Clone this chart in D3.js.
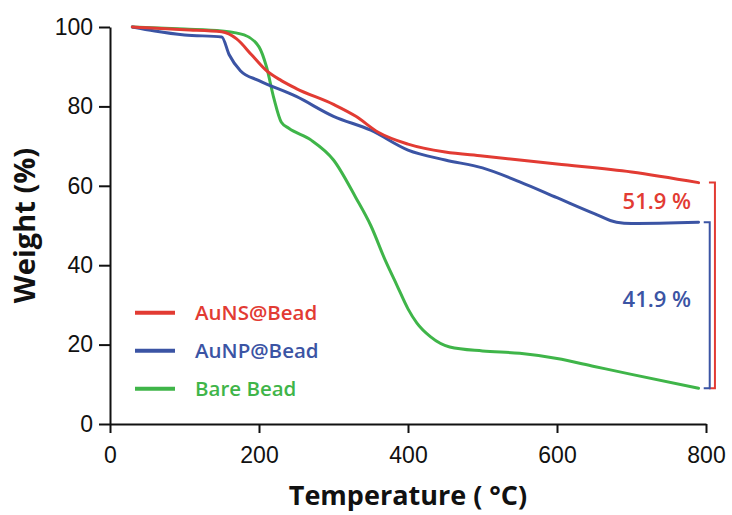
<!DOCTYPE html>
<html>
<head>
<meta charset="utf-8">
<script src="https://cdn.jsdelivr.net/npm/d3@7"></script>
<style>
  body { margin: 0; background: #fff; }
  svg { font-family: "Open Sans", "Noto Sans", sans-serif; }
</style>
</head>
<body>
<svg id="chart" width="732" height="515"></svg>
<script>
// TGA curves (temperature in °C, weight in %)
const seriesNames = ["AuNS@Bead", "AuNP@Bead", "Bare Bead"];
const seriesColors = ["#e23b33", "#3b54a4", "#3fb549"];

const tempAuNS = [30, 50, 100, 150, 170, 190, 210, 230, 250, 300, 330, 360, 400, 450, 500, 600, 700, 790];
const weightAuNS = [100, 99.8, 99.3, 98.8, 97, 93, 89, 86.5, 84.5, 80.5, 77.5, 73.5, 70.5, 68.5, 67.5, 65.5, 63.5, 60.8];

const tempAuNP = [30, 60, 100, 150, 160, 175, 200, 250, 300, 350, 400, 450, 500, 550, 600, 650, 680, 700, 790];
const weightAuNP = [100, 99, 98, 97.5, 93, 89, 86.5, 82.5, 77.5, 74, 69, 66.5, 64.5, 61, 57, 53, 50.8, 50.5, 50.8];

const tempBare = [30, 100, 150, 180, 200, 210, 220, 230, 240, 270, 300, 330, 350, 370, 385, 400, 412, 430, 456, 500, 550, 600, 650, 700, 790];
const weightBare = [100, 99.5, 99, 98, 95, 90, 82, 76, 74.5, 71.5, 66.5, 57, 50, 41, 35, 29, 25.4, 22, 19.4, 18.4, 17.8, 16.5, 14.5, 12.5, 9];

const xTicks = [0, 200, 400, 600, 800];
const yTicks = [0, 20, 40, 60, 80, 100];
const lossLabels = ["51.9 %", "41.9 %"];

const svg = d3.select("#chart");
const margin = {top: 27, right: 26, bottom: 91, left: 110};
const width = 732 - margin.left - margin.right;
const height = 515 - margin.top - margin.bottom;

const g = svg.append("g").attr("transform", `translate(${margin.left},${margin.top})`);

const x = d3.scaleLinear().domain([0, 800]).range([0, width]);
const y = d3.scaleLinear().domain([0, 100]).range([height, 0]);

// axes
const xAxis = g.append("g")
    .attr("transform", `translate(0,${height})`)
    .call(d3.axisBottom(x).tickValues(xTicks).tickSize(9).tickSizeOuter(0).tickPadding(14));
const yAxis = g.append("g")
    .call(d3.axisLeft(y).tickValues(yTicks).tickSize(11).tickSizeOuter(0).tickPadding(6));

[xAxis, yAxis].forEach(function(a) {
    a.select(".domain").attr("stroke", "#111").attr("stroke-width", 2);
    a.selectAll(".tick line").attr("stroke", "#111").attr("stroke-width", 2);
    a.selectAll(".tick text").attr("fill", "#111").style("font-size", "23px");
});

// axis titles
svg.append("text")
    .attr("x", margin.left + x(400))
    .attr("y", 505)
    .attr("text-anchor", "middle")
    .style("font-size", "27px")
    .style("font-weight", "bold")
    .attr("fill", "#111")
    .text("Temperature ( °C)");

svg.append("text")
    .attr("transform", `translate(35,${margin.top + y(50)}) rotate(-90)`)
    .attr("text-anchor", "middle")
    .style("font-size", "29px")
    .style("font-weight", "bold")
    .attr("fill", "#111")
    .text("Weight (%)");

// curves
const series = [
    {temp: tempAuNS, weight: weightAuNS},
    {temp: tempAuNP, weight: weightAuNP},
    {temp: tempBare, weight: weightBare}
];

const line = d3.line()
    .x(function(d) { return x(d[0]); })
    .y(function(d) { return y(d[1]); })
    .curve(d3.curveMonotoneX);

// draw green first so red/blue sit on top like the original
[2, 1, 0].forEach(function(i) {
    const pts = series[i].temp.map(function(t, j) { return [t, series[i].weight[j]]; });
    g.append("path")
        .datum(pts)
        .attr("fill", "none")
        .attr("stroke", seriesColors[i])
        .attr("stroke-width", 3)
        .attr("stroke-linecap", "round")
        .attr("d", line);
});

// legend
const legend = g.append("g").attr("transform", `translate(25,${y(28)})`);
seriesNames.forEach(function(name, i) {
    const row = legend.append("g").attr("transform", `translate(0,${i * 38})`);
    row.append("line")
        .attr("x1", 0).attr("x2", 40)
        .attr("stroke", seriesColors[i])
        .attr("stroke-width", 4);
    row.append("text")
        .attr("x", 60)
        .attr("dy", "0.35em")
        .attr("fill", seriesColors[i])
        .style("font-size", "20.5px")
        .style("font-weight", 600)
        .text(name);
});

// weight-loss brackets
const lastBare = weightBare[weightBare.length - 1];
const brackets = [
    {top: weightAuNS[weightAuNS.length - 1], dx: 812, color: seriesColors[0]},
    {top: weightAuNP[weightAuNP.length - 1], dx: 805, color: seriesColors[1]}
];
brackets.forEach(function(b) {
    const bx = x(b.dx);
    g.append("path")
        .attr("fill", "none")
        .attr("stroke", b.color)
        .attr("stroke-width", 2)
        .attr("d", `M${bx - 6},${y(b.top)}H${bx}V${y(lastBare)}H${bx - 6}`);
});

g.append("text")
    .attr("x", x(780))
    .attr("y", y(56))
    .attr("dy", "0.35em")
    .attr("text-anchor", "end")
    .attr("fill", seriesColors[0])
    .style("font-size", "22px")
    .style("font-weight", 600)
    .text(lossLabels[0]);

g.append("text")
    .attr("x", x(780))
    .attr("y", y(31.5))
    .attr("dy", "0.35em")
    .attr("text-anchor", "end")
    .attr("fill", seriesColors[1])
    .style("font-size", "22px")
    .style("font-weight", 600)
    .text(lossLabels[1]);
</script>
</body>
</html>
